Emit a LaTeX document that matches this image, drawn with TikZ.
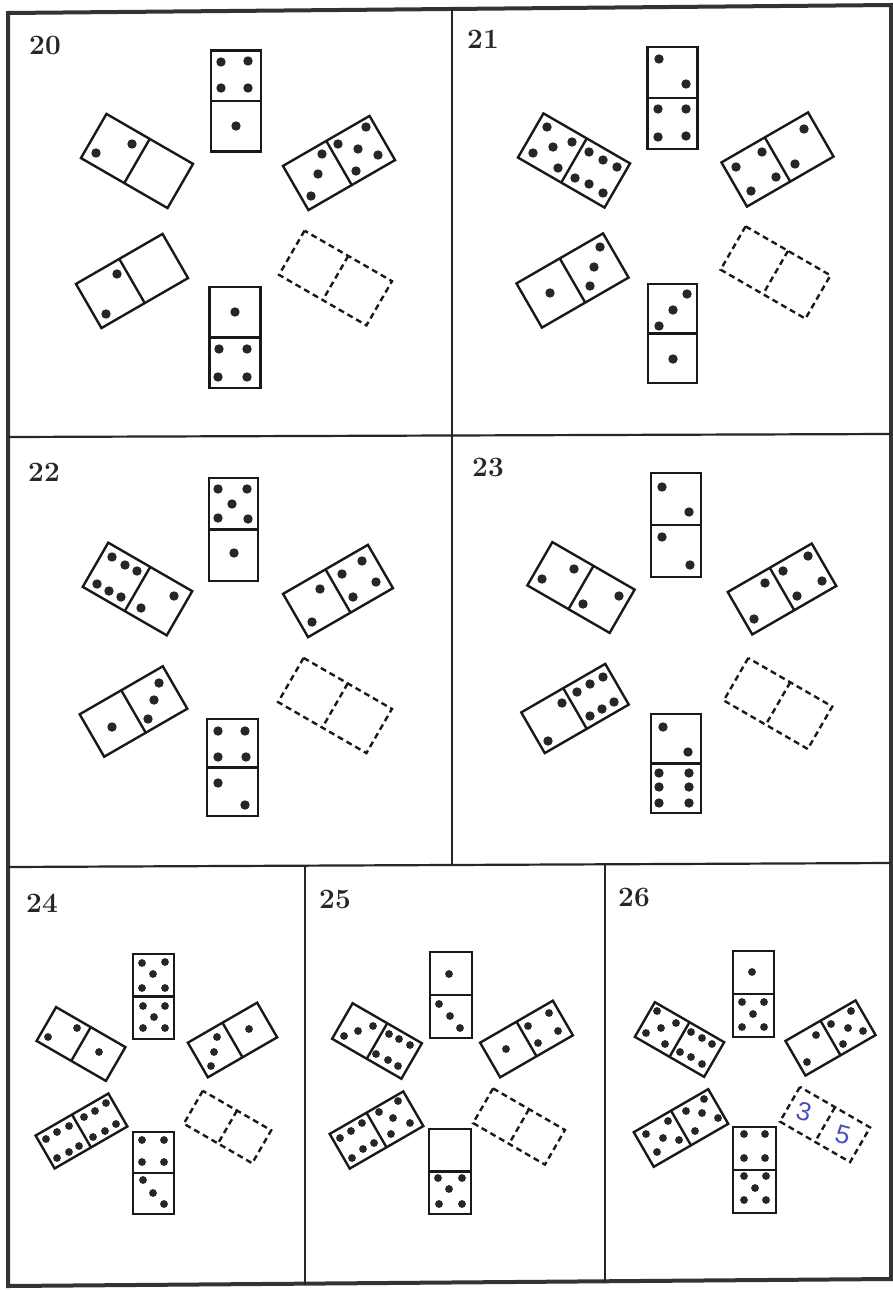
\documentclass[tikz,border=0pt]{standalone}
\usepackage{fontspec}
\newfontfamily\handfont{Liberation Sans}
\newcommand{\domino}[6][]{%
  \begin{scope}[shift={(#2,#3)},rotate=#4]
    \draw[domline,#1] (-#5/2,-#6/2) rectangle (#5/2,#6/2);
    \draw[domline,#1] (0,-#6/2) -- (0,#6/2);
  \end{scope}}
\newcommand{\pips}[2][4.7pt]{\foreach \p in {#2}{\fill[pipcol] \p circle (#1);}}
\begin{document}
\begin{tikzpicture}[x=1pt,y=-1pt,
  domline/.style={line width=2.4pt,black!90,line join=miter},
  gap/.style={dash pattern=on 6pt off 4pt},
  frame/.style={line width=4pt,black!80},
  inner/.style={line width=2.2pt,black!85},
  lab/.style={font=\fontsize{28}{30}\selectfont\bfseries,inner sep=0pt,text=black!85},
  hand/.style={font=\handfont\fontsize{26}{28}\selectfont,inner sep=0pt,text={rgb,255:red,75;green,80;blue,185}}]
\colorlet{pipcol}{black!85}
\useasboundingbox (0,0) rectangle (893,1290);
\fill[white] (0,0) rectangle (893,1290);
% frame
\draw[frame] (8,13) -- (891,5) -- (891,1279) -- (8,1286) -- cycle;
\draw[inner] (452,9) -- (452,866);
\draw[inner] (8,437) -- (891,434);
\draw[inner] (8,867) -- (891,863);
\draw[inner] (305,866) -- (305,1285);
\draw[inner] (605,864) -- (605,1282);
% labels
\node[lab] (n20) at (45,45) {20};
\node[lab] (n21) at (483,39) {21};
\node[lab] (n22) at (44,472) {22};
\node[lab] (n23) at (488,467) {23};
\node[lab] (n24) at (42,903) {24};
\node[lab] (n25) at (335,899) {25};
\node[lab] (n26) at (634,897) {26};
% ---------- panel 20
\domino{236}{101}{90}{101}{50}
\pips{(221,62),(248,61),(221,88),(248,88),(236,126)}
\domino{137}{161}{-30}{100}{51}
\pips{(96,153),(132,144)}
\domino{339}{163}{30}{100}{51}
\pips{(322,154),(318,174),(311,196),(338,144),(366,127),(358,149),(378,155),(356,171)}
\domino{132}{281}{30}{100}{51}
\pips{(117,274),(106,314)}
\domino[gap]{335.5}{278}{-30}{101}{51}
\domino{235}{337.5}{90}{101}{51}
\pips{(235,312),(219,349),(247,349),(218,377),(247,377)}
% ---------- panel 21
\domino{672.5}{98}{90}{102}{50}
\pips{(659,59),(686,84),(658,109),(686,109),(658,137),(686,136)}
\domino{574}{160.5}{-30}{100}{51}
\pips{(547,127),(572,142),(553,147),(533,153),(558,168),(589,152),(603,160),(617,167),(575,178),(589,184),(603,193)}
\domino{777.5}{159.5}{30}{100}{51}
\pips{(736,167),(762,152),(751,191),(776,177),(804,129),(795,164)}
\domino{572.5}{280.5}{30}{100}{51}
\pips{(550,293),(600,247),(594,267),(590,286)}
\domino[gap]{775.5}{272.5}{-30}{98}{50}
\domino{672.5}{333.5}{90}{99}{49}
\pips{(687,294),(673,310),(659,326),(673,359)}
% ---------- panel 22
\domino{233.5}{529.5}{90}{103}{49}
\pips{(218,489),(247,489),(232,504),(218,518),(248,519),(234,553)}
\domino{137.5}{589}{-30}{97}{51}
\pips{(112,557),(125,565),(137,571),(97,584),(109,591),(121,597),(174,596),(141,608)}
\domino{338}{591}{30}{98}{50}
\pips{(320,589),(312,622),(362,561),(342,574),(376,582),(353,597)}
\domino{133.5}{711.5}{30}{96}{49}
\pips{(112,727),(159,683),(154,700),(148,719)}
\domino[gap]{335}{705.5}{-30}{102}{51}
\domino{232.5}{767.5}{90}{97}{51}
\pips{(218,731),(245,731),(218,757),(246,757),(218,783),(245,805)}
% ---------- panel 23
\domino{676}{525}{90}{104}{50}
\pips{(662,487),(689,512),(662,537),(690,565)}
\domino{581}{587.5}{-30}{95}{50}
\pips{(574,569),(542,579),(619,596),(583,604)}
\domino{782}{589}{30}{97}{49}
\pips{(765,583),(754,619),(808,556),(783,571),(822,581),(797,596)}
\domino{575}{708.5}{30}{97}{47}
\pips{(562,703),(548,741),(603,677),(590,684),(577,692),(614,702),(602,709),(590,716)}
\domino[gap]{778}{703.5}{-30}{97}{49}
\domino{676}{763.5}{90}{99}{50}
\pips{(663,727),(688,752),(659,773),(689,773),(659,787),(689,787),(659,803),(689,803)}
% ---------- panel 24
\domino{153.5}{996.5}{90}{85}{41}
\pips[3.9pt]{(142,963),(165,962),(153,974),(142,988),(165,988),(143,1006),(165,1006),(154,1017),(143,1028),(165,1028)}
\domino{81}{1044}{-30}{80}{39}
\pips[3.9pt]{(48,1037),(77,1028),(99,1052)}
\domino{232.5}{1040}{30}{80}{40}
\pips[3.9pt]{(217,1037),(214,1052),(211,1066),(249,1029)}
\domino{81.5}{1131}{30}{84}{38}
\pips[3.9pt]{(46,1139),(57,1132),(69,1126),(57,1158),(69,1152),(79,1146),(84,1117),(95,1111),(106,1103),(93,1137),(105,1131),(116,1124)}
\domino[gap]{227.5}{1127}{-30}{79}{38}
\domino{153.5}{1173}{90}{82}{41}
\pips[3.9pt]{(142,1140),(164,1140),(142,1162),(164,1162),(143,1180),(153,1193),(164,1204)}
% ---------- panel 25
\domino{451}{995}{90}{86}{42}
\pips[3.9pt]{(449,974),(439,1004),(450,1016),(460,1028)}
\domino{377}{1041}{-30}{80}{41}
\pips[3.9pt]{(344,1036),(358,1031),(373,1026),(389,1034),(399,1039),(410,1045),(376,1054),(388,1060),(398,1066)}
\domino{526.5}{1039}{30}{84}{40}
\pips[3.9pt]{(506,1049),(528,1026),(549,1013),(538,1043),(558,1031)}
\domino{376.5}{1130}{30}{85}{40}
\pips[3.9pt]{(340,1138),(351,1131),(362,1123),(352,1158),(363,1149),(374,1143),(379,1112),(398,1101),(393,1118),(391,1134),(410,1123)}
\domino[gap]{519}{1126.5}{-30}{83}{40}
\domino{450}{1171.5}{90}{85}{42}
\pips[3.9pt]{(438,1178),(462,1178),(449,1189),(439,1204),(462,1204)}
% ---------- panel 26
\domino{753.5}{994}{90}{86}{41}
\pips[3.9pt]{(752,972),(742,1002),(764,1002),(753,1014),(742,1027),(764,1027)}
\domino{679.5}{1039.5}{-30}{80}{40}
\pips[3.9pt]{(657,1011),(676,1023),(661,1028),(646,1033),(665,1044),(691,1032),(702,1038),(712,1044),(680,1052),(691,1057),(702,1064)}
\domino{830.5}{1038}{30}{81}{40}
\pips[3.9pt]{(816,1035),(807,1062),(831,1024),(851,1011),(848,1028),(863,1031),(843,1044)}
\domino{681}{1128}{30}{86}{40}
\pips[3.9pt]{(668,1121),(646,1134),(663,1138),(679,1140),(657,1152),(704,1099),(686,1111),(702,1113),(718,1118),(695,1131)}
\domino[gap]{825}{1124.5}{-30}{81}{40}
\domino{754.5}{1170}{90}{86}{43}
\pips[3.9pt]{(744,1134),(765,1134),(744,1158),(765,1158),(744,1176),(766,1176),(755,1188),(744,1200),(766,1200)}
\node[hand,rotate=-15] (h3) at (804,1112) {3};
\node[hand,rotate=-15] (h5) at (843,1135) {5};
\end{tikzpicture}
\end{document}
